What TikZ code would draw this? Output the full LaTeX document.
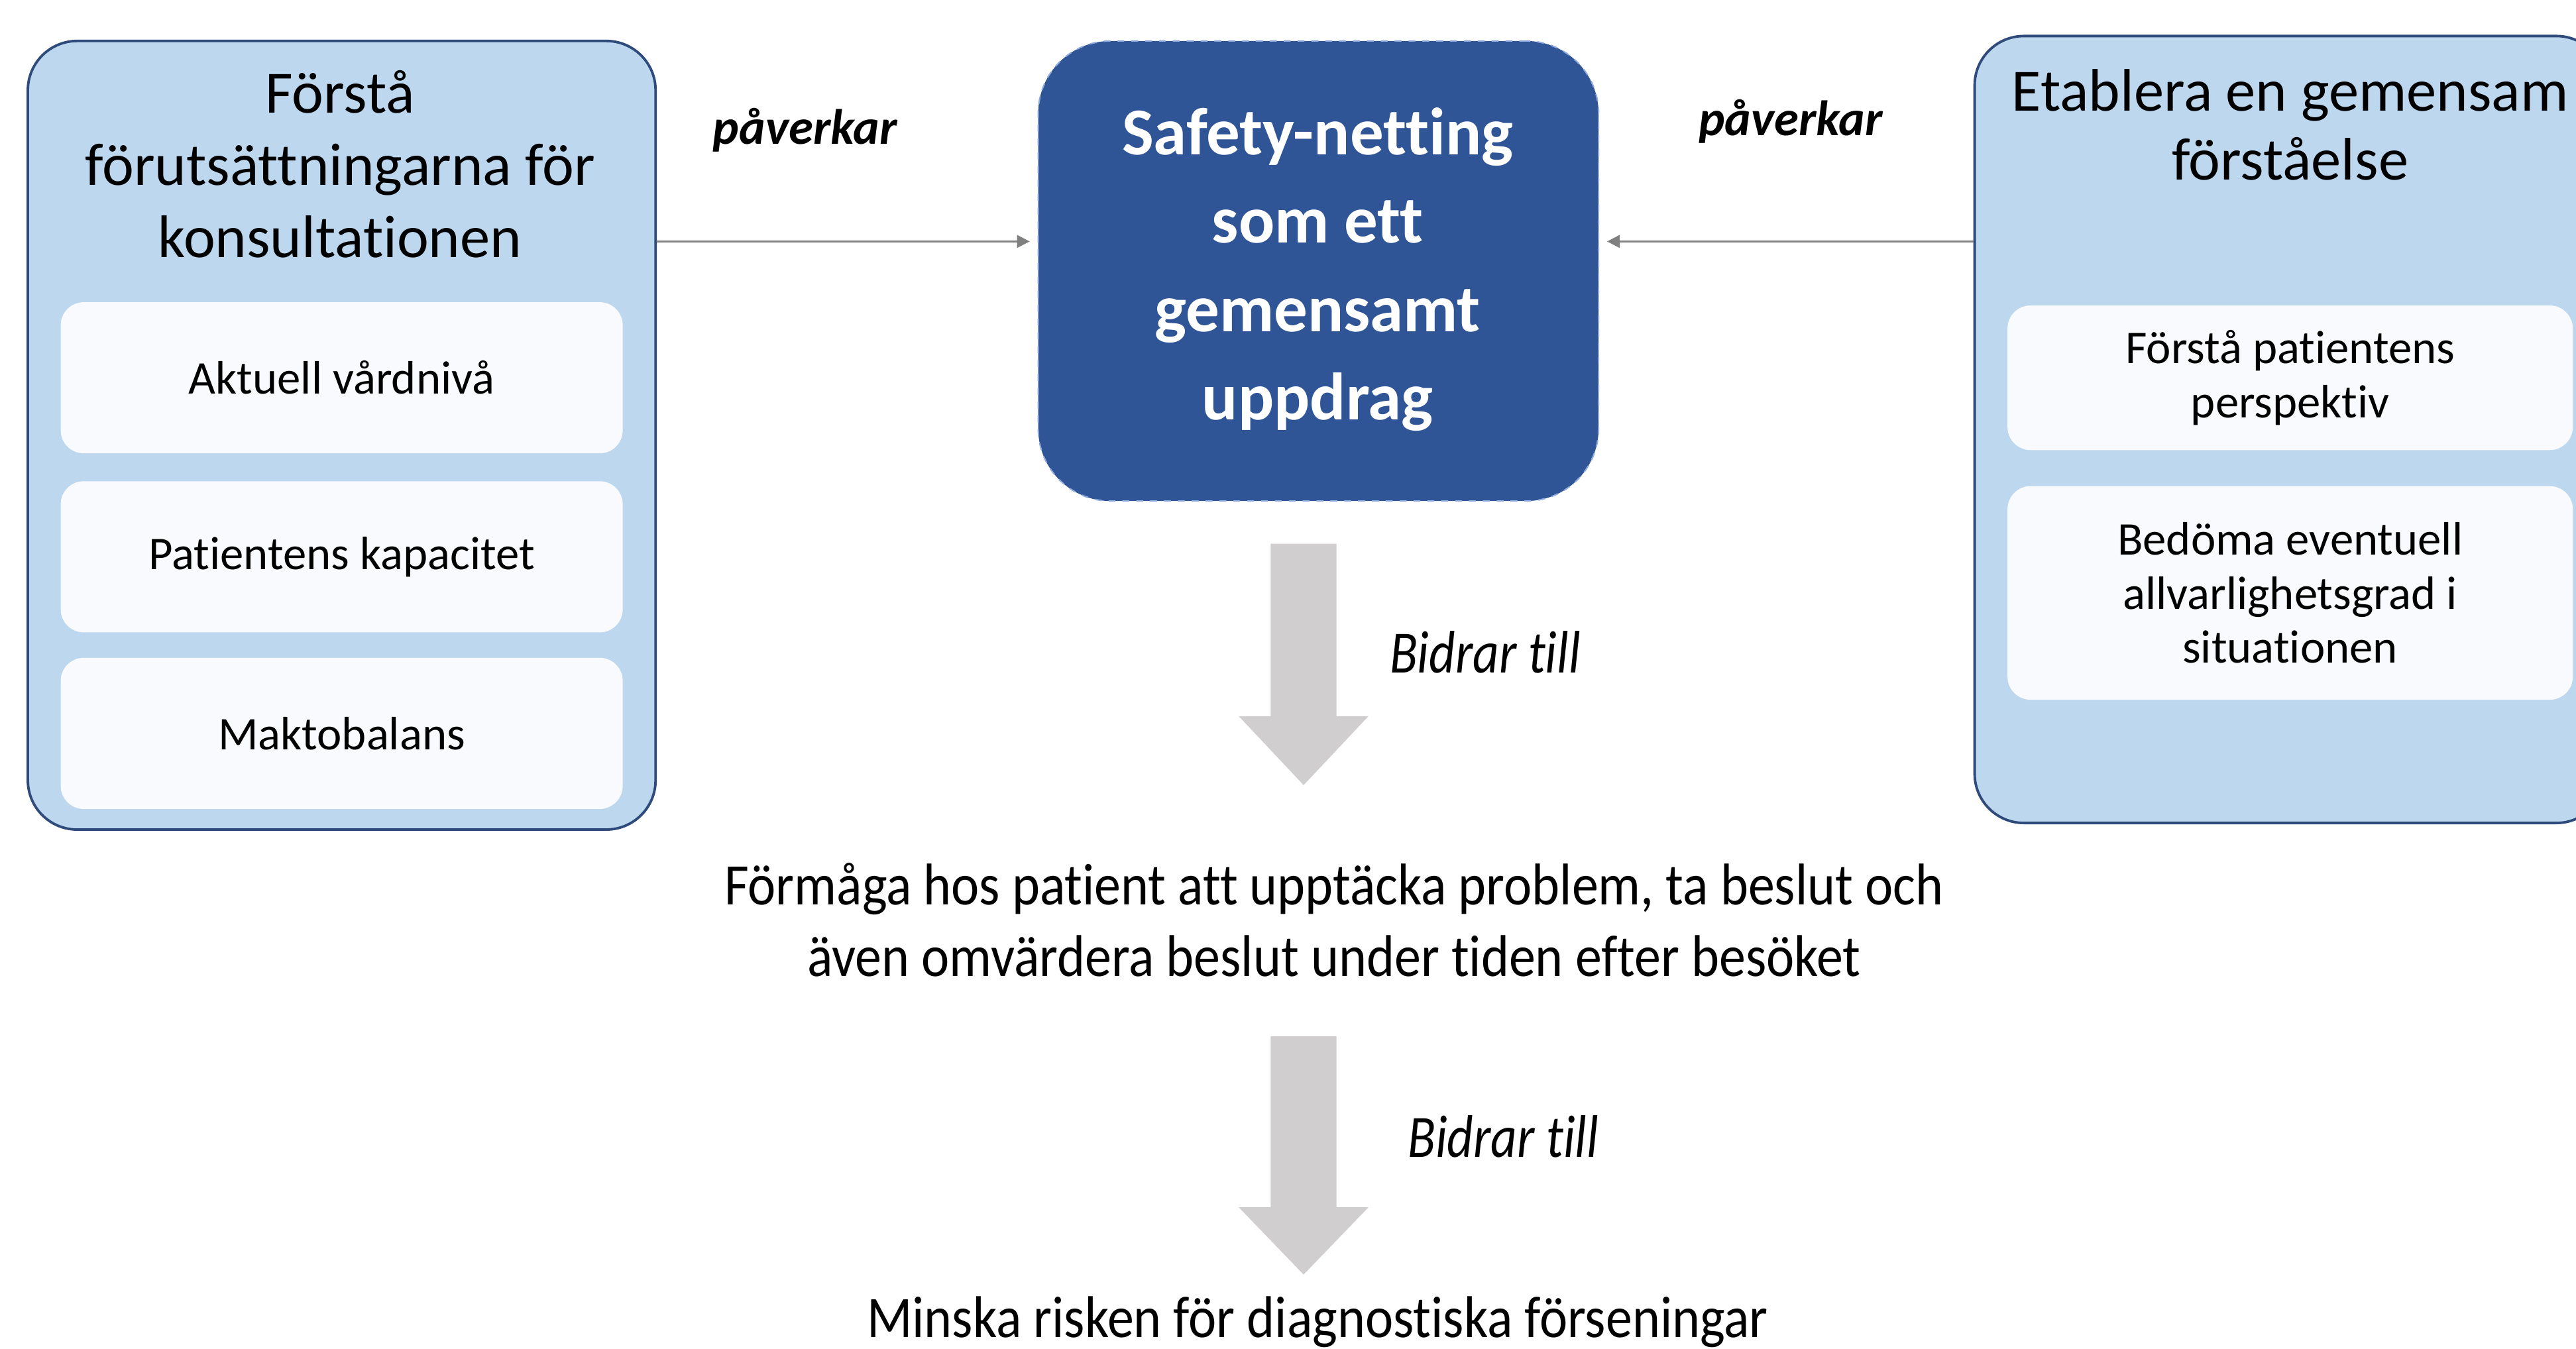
\documentclass[tikz,border=0pt]{standalone}
\usepackage{fontspec}
\setmainfont{Carlito}[RawFeature=-liga]
\newfontfamily\condfont[FakeStretch=0.9,RawFeature=-liga]{Carlito}
\newfontfamily\bidfont[FakeStretch=0.85,RawFeature=-liga]{Carlito}
\usetikzlibrary{arrows.meta}
\definecolor{lightblue}{HTML}{BDD7EE}
\definecolor{boxborder}{HTML}{2F4B7C}
\definecolor{centerblue}{HTML}{2F5597}
\definecolor{centerborder}{HTML}{8FAADC}
\definecolor{innerfill}{HTML}{F8FAFD}
\definecolor{conngray}{HTML}{808080}
\definecolor{blockgray}{HTML}{D0CECE}
\tikzset{
  outerbox/.style={draw=boxborder, line width=1.1pt, fill=lightblue, rounded corners=0.75cm, inner sep=0pt},
  innerbox/.style={fill=innerfill, rounded corners=0.35cm, inner sep=0pt, align=center,
                   font=\fontsize{20.3}{23.4}\selectfont},
  centerbox/.style={draw=centerborder, dashed, line width=0.6pt, fill=centerblue, rounded corners=1.1cm, inner sep=0pt},
  titletext/.style={align=center, font=\fontsize{26}{31.2}\selectfont},
  conn/.style={draw=conngray, line width=0.75pt, -{Triangle[length=5.5pt, width=5.5pt]}},
  pavtext/.style={font=\fontsize{21.5}{25}\selectfont\bfseries\itshape},
  bidtext/.style={font=\fontsize{26}{31}\bidfont\itshape},
  condtext/.style={align=center, font=\fontsize{25.5}{31.2}\condfont},
  blockarrow/.style={fill=blockgray, draw=none}
}
\begin{document}
\begin{tikzpicture}[x=0.025cm, y=-0.025cm]
\useasboundingbox (0,0) rectangle (1568,821);
\clip (0,0) rectangle (1568,821);
% left group
\node[outerbox, minimum width=9.55cm, minimum height=12cm] (L) at (208,265) {};
\node[titletext] (Lt) at (207,100) {Förstå\\förutsättningarna för\\konsultationen};
\node[innerbox, minimum width=8.55cm, minimum height=2.3cm] (L1) at (208,230) {Aktuell vårdnivå};
\node[innerbox, minimum width=8.55cm, minimum height=2.3cm] (L2) at (208,339) {Patientens kapacitet};
\node[innerbox, minimum width=8.55cm, minimum height=2.3cm] (L3) at (208,446.5) {Maktobalans};
% center
\node[centerbox, minimum width=8.525cm, minimum height=7cm] (C) at (802.5,165) {};
\node[align=center, text=white, font=\fontsize{29}{38.3}\selectfont\bfseries] (Ct) at (802,164)
  {Safety-netting\\som ett\\gemensamt\\uppdrag};
% right group
\node[outerbox, minimum width=9.6cm, minimum height=11.975cm] (R) at (1394,261.5) {};
\node[align=center, font=\fontsize{26}{29.8}\selectfont] (Rt) at (1394,76) {Etablera en gemensam\\förståelse};
\node[innerbox, minimum width=8.6cm, minimum height=2.2cm] (R1) at (1394,230) {Förstå patientens\\perspektiv};
\node[innerbox, minimum width=8.6cm, minimum height=3.25cm] (R2) at (1394,361) {Bedöma eventuell\\allvarlighetsgrad i\\situationen};
% horizontal connectors
\coordinate (lvl) at (0,147);
\draw[conn, shorten >=2.5\pgflinewidth] (L.east |- lvl) -- ([xshift=-1.5pt]C.west |- lvl);
\draw[conn, shorten >=2.5\pgflinewidth] (R.west |- lvl) -- ([xshift=1.5pt]C.east |- lvl);
\node[pavtext] (p1) at (490,79) {påverkar};
\node[pavtext] (p2) at (1090,74) {påverkar};
% outcome texts
\node[condtext] (F) at (812,560) {Förmåga hos patient att upptäcka problem, ta beslut och\\även omvärdera beslut under tiden efter besöket};
\node[condtext] (M) at (802,805) {Minska risken för diagnostiska förseningar};
% block arrows
\coordinate (a1) at (793.5,331);
\coordinate (a2) at (793.5,631);
\fill[blockarrow] (a1) ++(-20,0) -- ++(40,0) -- ++(0,105) -- ++(19.5,0) -- (793.5,478) -- (754,436) -- ++(19.5,0) -- cycle;
\fill[blockarrow] (a2) ++(-20,0) -- ++(40,0) -- ++(0,104) -- ++(19.5,0) -- (793.5,776) -- (754,735) -- ++(19.5,0) -- cycle;
\node[bidtext] (b1) at (904,397) {Bidrar till};
\node[bidtext] (b2) at (915,692) {Bidrar till};
\end{tikzpicture}
\end{document}
